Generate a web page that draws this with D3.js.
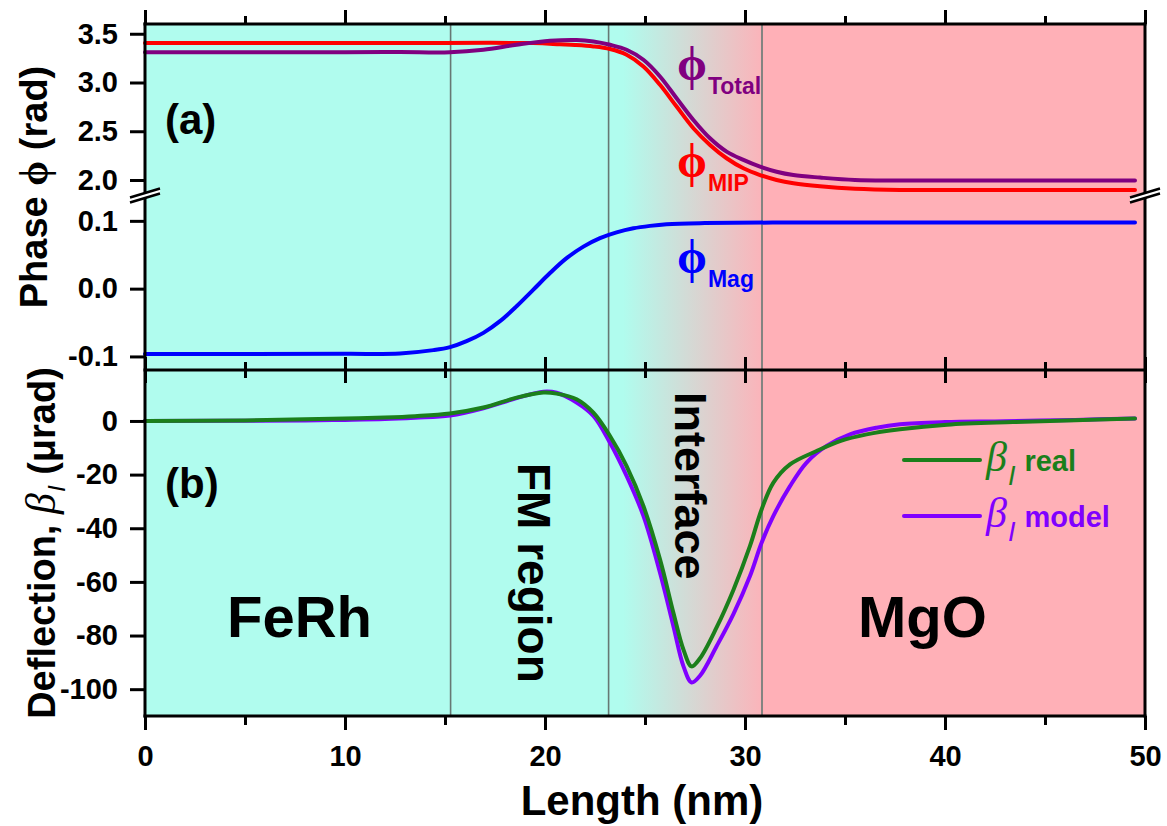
<!DOCTYPE html>
<html>
<head>
<meta charset="utf-8">
<script src="https://cdn.jsdelivr.net/npm/d3@7"></script>
<style>
body { margin: 0; background: #fff; }
svg { font-family: "Liberation Sans", Arial, sans-serif; font-weight: bold; }
.axis text { font-family: "Liberation Sans", Arial, sans-serif; font-size: 29px; font-weight: bold; fill: #000; }
.axis line { stroke: #000; stroke-width: 3px; }
.curve { fill: none; stroke-width: 4px; stroke-linecap: round; stroke-linejoin: round; }
</style>
</head>
<body>
<div id="chart"></div>
<script>
var width = 1167,
    height = 826;

// ---- data ----
var xMajor = [0, 10, 20, 30, 40, 50];
var xMinor = [5, 15, 25, 35, 45];
var hiTicks = [2.0, 2.5, 3.0, 3.5];
var loTicks = [-0.1, 0.0, 0.1];
var defTicks = [-100, -80, -60, -40, -20, 0];
var regionBounds = [15.28, 23.18, 30.85];

var phiMIP = [[0,3.404],[12,3.404],[19.4,3.404],[20.75,3.392],[21.5,3.385],[22.42,3.37],[23.25,3.343],
  [24.08,3.284],[24.92,3.164],[25.75,2.976],[26.58,2.753],[27.42,2.531],[28.25,2.36],[29.08,2.223],
  [29.92,2.12],[30.75,2.051],[31.58,2.0],[32.42,1.966],[33.75,1.935],[35.5,1.91],[37.75,1.898],
  [42,1.897],[49.5,1.897]];

var phiTotal = [[0,3.31],[10,3.31],[12.75,3.312],[15.25,3.31],[16.92,3.336],[18.58,3.387],[20.25,3.428],
  [21.58,3.436],[22.42,3.421],[23.25,3.387],[24.08,3.336],[24.92,3.233],[25.75,3.062],[26.58,2.839],
  [27.42,2.616],[28.25,2.428],[29.08,2.291],[29.92,2.206],[30.75,2.137],[31.58,2.085],[32.42,2.051],
  [33.75,2.025],[35.5,2.0],[37.75,1.995],[49.5,1.995]];

var phiMag = [[0,-0.0965],[10,-0.0962],[12.75,-0.0956],[14.42,-0.0907],[15.25,-0.0863],[16.08,-0.0775],
  [16.92,-0.0652],[17.75,-0.048],[18.58,-0.026],[19.42,-0.0015],[20.25,0.023],[21.08,0.045],[21.92,0.062],
  [22.75,0.0745],[23.58,0.083],[24.42,0.089],[25.25,0.0926],[26.08,0.095],[27.75,0.0966],[32,0.0975],
  [49.5,0.0975]];

var betaReal = [[0,0],[5,0.2],[8,0.6],[10,0.9],[12,1.3],[13.5,1.8],[15.25,2.8],[16.92,5.0],[18.58,8.7],
  [19.92,10.6],[20.58,10.2],[21.58,8.1],[22.42,3.1],[23.25,-5.6],[24.08,-16.8],[24.92,-31.7],[25.75,-51.6],
  [26.42,-71.5],[26.92,-85.2],[27.33,-91.5],[27.75,-88.5],[28.58,-77],[29.42,-63],[30.25,-46.6],[30.83,-33],
  [31.42,-23],[32.25,-16.2],[33.58,-11.2],[34.75,-7.5],[36.08,-5],[37.75,-3.1],[40.1,-1.4],[43.4,-0.4],
  [46.5,0.3],[49.5,0.9]];

var betaModel = [[0,0],[8,0.2],[10,0.4],[12,0.7],[13.5,1.2],[15.25,2.0],[16.92,4.7],[18.58,8.5],[19.92,10.9],
  [20.58,10.5],[21.58,6.9],[22.42,1.9],[23.25,-8.1],[24.08,-20.5],[24.92,-35.4],[25.75,-56.6],[26.42,-76.5],
  [26.92,-91.4],[27.33,-97.5],[27.75,-95],[28.58,-84],[29.42,-72],[30.25,-57.8],[30.83,-45.4],[31.42,-35.4],
  [32.25,-24.3],[33.08,-15.5],[34.08,-9.3],[35.25,-5],[36.58,-2.5],[37.75,-1.2],[40,-0.4],[43,-0.1],
  [46.5,0.4],[49.5,0.9]];

// ---- layout ----
var pL = 145, pR = 1145, pT = 24, pM = 370, pB = 716, brk = 199.5;

var x = d3.scaleLinear().domain([0, 50]).range([pL, pR]);
var yHi = d3.scaleLinear().domain([1.8, 3.6]).range([brk, pT]);
var yLo = d3.scaleLinear().domain([-0.12, 0.1315]).range([pM, brk]);
var yDef = d3.scaleLinear().domain([-110, 19]).range([pB, pM]);

var svg = d3.select("#chart").append("svg")
    .attr("width", width)
    .attr("height", height);

// background: FeRh cyan -> gradient -> MgO pink
var grad = svg.append("defs").append("linearGradient")
    .attr("id", "bg")
    .attr("gradientUnits", "userSpaceOnUse")
    .attr("x1", x(23.9)).attr("x2", x(31.2))
    .attr("y1", 0).attr("y2", 0);
grad.append("stop").attr("offset", 0).attr("stop-color", "#b0fcee");
grad.append("stop").attr("offset", 1).attr("stop-color", "#ffb0b7");

svg.append("rect")
    .attr("x", pL).attr("y", pT)
    .attr("width", pR - pL).attr("height", pB - pT)
    .attr("fill", "url(#bg)");
svg.append("rect")
    .attr("x", x(regionBounds[2])).attr("y", pT)
    .attr("width", pR - x(regionBounds[2])).attr("height", pB - pT)
    .attr("fill", "#ffb0b7");

svg.selectAll(".bound")
    .data(regionBounds).enter().append("line")
      .attr("class", "bound")
      .attr("x1", function(d) { return x(d); })
      .attr("x2", function(d) { return x(d); })
      .attr("y1", pT).attr("y2", pB)
      .attr("stroke", "#667873")
      .attr("stroke-width", 1.6);

// region names
svg.append("text").attr("x", 227).attr("y", 637).attr("font-size", 58).text("FeRh");
svg.append("text").attr("x", 858).attr("y", 637).attr("font-size", 58).text("MgO");
svg.append("text").attr("transform", "translate(518,463) rotate(90)").attr("font-size", 46).text("FM region");
svg.append("text").attr("transform", "translate(675,392) rotate(90)").attr("font-size", 45).text("Interface");

// curves
function lineFor(ys) {
  return d3.line()
    .x(function(d) { return x(d[0]); })
    .y(function(d) { return ys(d[1]); })
    .curve(d3.curveCatmullRom.alpha(0.5));
}

svg.append("path").datum(phiMag).attr("class", "curve").attr("stroke", "#0000ff").attr("d", lineFor(yLo));
svg.append("path").datum(phiMIP).attr("class", "curve").attr("stroke", "#ff0000").attr("d", lineFor(yHi));
svg.append("path").datum(phiTotal).attr("class", "curve").attr("stroke", "#800080").attr("d", lineFor(yHi));
svg.append("path").datum(betaModel).attr("class", "curve").attr("stroke", "#8000ff").attr("d", lineFor(yDef));
svg.append("path").datum(betaReal).attr("class", "curve").attr("stroke", "#1b7f1b").attr("d", lineFor(yDef));

// axes
function xAxis(gen, y, vals, size, labels) {
  var g = svg.append("g").attr("class", "axis")
      .attr("transform", "translate(0," + y + ")")
      .call(gen(x).tickValues(vals).tickSize(size).tickPadding(15)
        .tickFormat(labels ? d3.format("d") : ""));
  g.select(".domain").remove();
  return g;
}
xAxis(d3.axisBottom, pB, xMajor, 14, true);
xAxis(d3.axisBottom, pB, xMinor, 9, false);
xAxis(d3.axisTop, pT, xMajor, 14, false);
xAxis(d3.axisTop, pT, xMinor, 8, false);
xAxis(d3.axisTop, pM, xMajor, 13, false);
xAxis(d3.axisTop, pM, xMinor, 8, false);
xAxis(d3.axisBottom, pM, xMajor, 13, false);
xAxis(d3.axisBottom, pM, xMinor, 8, false);

function yAxis(scale, vals, fmt) {
  var g = svg.append("g").attr("class", "axis")
      .attr("transform", "translate(" + pL + ",0)")
      .call(d3.axisLeft(scale).tickValues(vals).tickSize(15).tickPadding(12).tickFormat(fmt));
  g.select(".domain").remove();
}
yAxis(yHi, hiTicks, d3.format(".1f"));
yAxis(yLo, loTicks, function(d) { return d3.format(".1f")(d).replace("\u2212", "-"); });
yAxis(yDef, defTicks, function(d) { return String(d); });

// frame
var frame = svg.append("g").attr("stroke", "#000").attr("stroke-width", 3).attr("stroke-linecap", "square");
frame.append("line").attr("x1", pL).attr("x2", pR).attr("y1", pT).attr("y2", pT);
frame.append("line").attr("x1", pL).attr("x2", pR).attr("y1", pM).attr("y2", pM);
frame.append("line").attr("x1", pL).attr("x2", pR).attr("y1", pB).attr("y2", pB);
frame.append("line").attr("x1", pL).attr("x2", pL).attr("y1", pT).attr("y2", pB);
frame.append("line").attr("x1", pR).attr("x2", pR).attr("y1", pT).attr("y2", pB);

// axis break marks
[pL, pR].forEach(function(bx) {
  var by = brk - 2;
  svg.append("polygon")
    .attr("points", [[bx - 15, by + 5], [bx + 15, by - 4], [bx + 15, by - 9], [bx - 15, by]].join(" "))
    .attr("fill", "#fff");
  svg.append("line").attr("x1", bx - 15).attr("y1", by + 5).attr("x2", bx + 15).attr("y2", by - 4)
    .attr("stroke", "#000").attr("stroke-width", 2.5);
  svg.append("line").attr("x1", bx - 15).attr("y1", by).attr("x2", bx + 15).attr("y2", by - 9)
    .attr("stroke", "#000").attr("stroke-width", 2.5);
});

// panel tags
svg.append("text").attr("x", 165).attr("y", 134).attr("font-size", 42).text("(a)");
svg.append("text").attr("x", 165).attr("y", 498).attr("font-size", 42).text("(b)");

// phase labels
function phiLabel(px, py, sub, color, subDy) {
  var t = svg.append("text").attr("x", px).attr("y", py).attr("fill", color);
  t.append("tspan").attr("font-family", "'Liberation Serif','DejaVu Serif',serif")
    .attr("font-weight", "bold").attr("font-size", 48).text("\u03D5");
  t.append("tspan").attr("font-size", 23).attr("dy", subDy).attr("dx", 1).text(sub);
}
phiLabel(677, 80, "Total", "#800080", 14);
phiLabel(677, 177, "MIP", "#ff0000", 14);
phiLabel(677, 273, "Mag", "#0000ff", 14);

// legend
function legendRow(ly, color, name) {
  svg.append("line").attr("x1", 904).attr("x2", 980).attr("y1", ly - 11).attr("y2", ly - 11)
    .attr("stroke", color).attr("stroke-width", 4).attr("stroke-linecap", "round");
  var t = svg.append("text").attr("x", 986).attr("y", ly).attr("fill", color);
  t.append("tspan").attr("font-family", "'Liberation Serif','DejaVu Serif',serif")
    .attr("font-style", "italic").attr("font-weight", "normal").attr("font-size", 42).text("\u03B2");
  t.append("tspan").attr("font-style", "italic").attr("font-weight", "normal")
    .attr("font-size", 27).attr("dy", 14).attr("dx", 1).text("I");
  t.append("tspan").attr("font-size", 29).attr("dy", -14).attr("dx", 9).text(name);
}
legendRow(471, "#1b7f1b", "real");
legendRow(527, "#8000ff", "model");

// axis titles
svg.append("text")
    .attr("x", 642).attr("y", 815)
    .attr("text-anchor", "middle").attr("font-size", 42)
    .text("Length (nm)");

var yt1 = svg.append("text")
    .attr("transform", "translate(47,187) rotate(-90)")
    .attr("text-anchor", "middle").attr("font-size", 38);
yt1.append("tspan").text("Phase ");
yt1.append("tspan").attr("font-family", "'Liberation Serif','DejaVu Serif',serif")
  .attr("font-weight", "bold").attr("font-size", 40).text("\u03D5");
yt1.append("tspan").text(" (rad)");

var yt2 = svg.append("text")
    .attr("transform", "translate(55,543) rotate(-90)")
    .attr("text-anchor", "middle").attr("font-size", 38);
yt2.append("tspan").text("Deflection, ");
yt2.append("tspan").attr("font-family", "'Liberation Serif','DejaVu Serif',serif")
  .attr("font-style", "italic").attr("font-weight", "normal").attr("font-size", 42).text("\u03B2");
yt2.append("tspan").attr("font-style", "italic").attr("font-weight", "normal")
  .attr("font-size", 24).attr("dy", 10).attr("dx", 1).text("I");
yt2.append("tspan").attr("dy", -10).text(" (\u03BCrad)");
</script>
</body>
</html>
